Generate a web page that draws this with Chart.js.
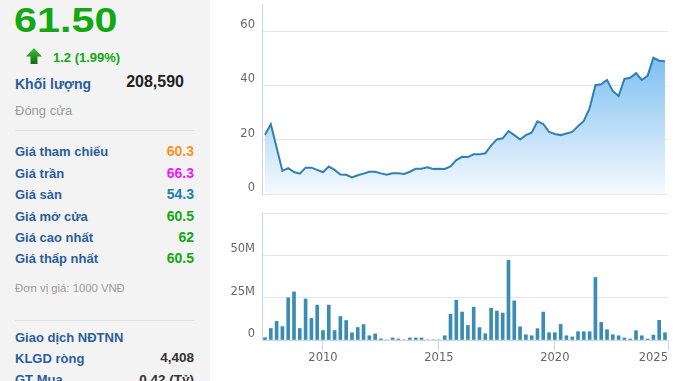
<!DOCTYPE html>
<html>
<head>
<meta charset="utf-8">
<script src="https://cdn.jsdelivr.net/npm/chart.js@4.4.1/dist/chart.umd.min.js"></script>
<style>
body { margin:0; width:678px; height:381px; overflow:hidden; background:#fff; position:relative; font-family:"Liberation Sans", Arial, sans-serif; }
#side { position:absolute; left:0; top:0; width:210px; height:381px; background:#f4f3f4; }
.t { position:absolute; white-space:nowrap; line-height:1; }
.lbl { left:15px; font-size:13px; font-weight:bold; color:#2b5d9c; }
.val { right:16px; font-size:14px; font-weight:bold; }
.sep { position:absolute; left:15px; width:180px; height:1px; background:#e2e1e2; }
canvas { position:absolute; }
</style>
</head>
<body>
<div id="side">
  <div class="t" style="left:14px;top:2px;font-size:35px;font-weight:bold;color:#12a812;transform:scaleX(1.18);transform-origin:left top;">61.50</div>
  <svg style="position:absolute;left:25px;top:47px" width="18" height="18" viewBox="0 0 18 18">
    <defs><linearGradient id="ag" x1="0" y1="0" x2="0" y2="1"><stop offset="0" stop-color="#43c043"/><stop offset="1" stop-color="#0d6e0d"/></linearGradient></defs>
    <polygon points="9,1 17,9.5 12.5,9.5 12.5,17 5.5,17 5.5,9.5 1,9.5" fill="url(#ag)"/>
  </svg>
  <div class="t" style="left:53px;top:51px;font-size:13px;font-weight:bold;color:#12a812;">1.2 (1.99%)</div>
  <div class="t" style="left:15px;top:76.5px;font-size:14px;font-weight:bold;color:#2b5d9c;">Khối lượng</div>
  <div class="t" style="right:26px;top:74px;font-size:16px;font-weight:bold;color:#222;">208,590</div>
  <div class="t" style="left:15px;top:104px;font-size:13px;color:#9a9a9a;">Đóng cửa</div>
  <div class="sep" style="top:130px"></div>

  <div class="t lbl" style="top:145px">Giá tham chiếu</div>
  <div class="t val" style="top:144px;color:#f7941d">60.3</div>
  <div class="t lbl" style="top:166.7px">Giá trần</div>
  <div class="t val" style="top:165.8px;color:#ee1bee">66.3</div>
  <div class="t lbl" style="top:188px">Giá sàn</div>
  <div class="t val" style="top:187.1px;color:#1b80b0">54.3</div>
  <div class="t lbl" style="top:209.7px">Giá mở cửa</div>
  <div class="t val" style="top:208.8px;color:#12a812">60.5</div>
  <div class="t lbl" style="top:230.7px">Giá cao nhất</div>
  <div class="t val" style="top:229.8px;color:#12a812">62</div>
  <div class="t lbl" style="top:252px">Giá thấp nhất</div>
  <div class="t val" style="top:251.1px;color:#12a812">60.5</div>

  <div class="t" style="left:15px;top:283.4px;font-size:11.3px;color:#9a9a9a;">Đơn vị giá: 1000 VNĐ</div>
  <div class="sep" style="top:320px"></div>

  <div class="t lbl" style="top:330.7px">Giao dịch NĐTNN</div>
  <div class="t lbl" style="top:351.6px">KLGD ròng</div>
  <div class="t val" style="top:351px;font-size:13.5px;color:#333">4,408</div>
  <div class="t lbl" style="top:373px">GT Mua</div>
  <div class="t val" style="top:372.5px;font-size:13.5px;color:#333">0.42 (Tỷ)</div>
</div>

<canvas id="price" width="458" height="200" style="left:220px;top:0px"></canvas>
<canvas id="vol" width="458" height="181" style="left:220px;top:200px"></canvas>

<script>
// du lieu theo quy, bat dau tu Q3/2007
const firstQuarter = 2007.5;
const xMin = 2007.37;
const xMax = 2024.88;
const yearTicks = [2010, 2015, 2020];

// gia dong cua (nghin dong)
const price = [21.8, 25.7, 17.1, 8.5, 9.5, 8.1, 7.5, 9.7, 9.7, 8.9,
  8.0, 10.1, 8.9, 7.2, 7.1, 6.1, 6.9, 7.5, 8.2, 8.2,
  7.6, 7.1, 7.6, 7.6, 7.4, 8.2, 9.3, 9.3, 9.8, 9.2,
  9.3, 9.2, 10.2, 12.5, 13.7, 13.6, 14.6, 14.6, 15.0, 17.8,
  20.1, 20.5, 23.2, 21.7, 20.1, 21.7, 22.6, 26.8, 25.8, 22.9,
  22.1, 21.7, 22.3, 22.9, 25.0, 26.9, 31.6, 40.1, 40.4, 42.0,
  37.9, 36.1, 42.4, 42.8, 44.5, 42.0, 43.5, 50.2, 49.1, 48.9];

// khoi luong (trieu cp)
const volume = [1.4, 6.8, 11.0, 7.9, 24.9, 28.4, 6.8, 24.2, 12.7, 20.6,
  5.6, 20.6, 5.6, 13.9, 11.5, 4.3, 7.4, 9.1, 2.5, 3.6,
  0.7, 0, 1.2, 0.6, 0, 1.2, 1.2, 1.2, 0, 0,
  0, 2.5, 15.2, 23.5, 16.5, 8.6, 19.4, 7.3, 3.7, 18.8,
  17.1, 15.9, 47.1, 23.1, 7.8, 3.1, 2.5, 6.7, 16.5, 4.3,
  4.3, 9.2, 2.5, 1.8, 4.9, 4.9, 4.9, 36.9, 10.4, 6.1,
  3.1, 2.5, 1.2, 0.6, 5.5, 2.5, 0.6, 2.9, 11.6, 4.3];

const axisFont = { family: "DejaVu Sans", size: 11.5 };
const axisColor = "#666";

function fixY(s) {
	s.width = 42;
	s.paddingTop = 0;
	s.paddingBottom = 0;
}

// grafico de precio
new Chart(document.getElementById("price"), {
	type: "line",
	data: {
		datasets: [{
			data: price.map((v, i) => ({ x: firstQuarter + i * 0.25, y: v })),
			borderColor: "#2f80b3",
			borderWidth: 2,
			pointRadius: 0,
			tension: 0,
			fill: "origin",
			backgroundColor: function (ctx) {
				const a = ctx.chart.chartArea;
				if (!a) return "rgba(0,0,0,0)";
				const g = ctx.chart.ctx.createLinearGradient(0, a.top, 0, a.bottom);
				g.addColorStop(0, "#4fa8ea");
				g.addColorStop(1, "#f5faff");
				return g;
			},
		}],
	},
	options: {
		responsive: false,
		animation: false,
		layout: { padding: { left: 0, right: 10, top: 4, bottom: 6 } },
		plugins: { legend: { display: false }, tooltip: { enabled: false } },
		scales: {
			x: { type: "linear", display: false, min: xMin, max: xMax },
			y: {
				min: 0,
				max: 70,
				afterBuildTicks: s => { s.ticks = s.ticks.filter(t => t.value % 20 === 0); },
				afterFit: fixY,
				ticks: { stepSize: 20, padding: 7, labelOffset: -6, color: axisColor, font: axisFont },
				grid: { color: "#e6e6e6", drawTicks: false },
				border: { color: "#ccd6eb" },
			},
		},
	},
});

// grafico de volumen
new Chart(document.getElementById("vol"), {
	type: "bar",
	data: {
		datasets: [{
			data: volume.map((v, i) => ({ x: firstQuarter + i * 0.25, y: v })),
			backgroundColor: "#3a8cb4",
			barThickness: 3,
		}],
	},
	options: {
		responsive: false,
		animation: false,
		layout: { padding: { left: 0, right: 10, top: 13, bottom: 0 } },
		plugins: { legend: { display: false }, tooltip: { enabled: false } },
		scales: {
			x: {
				type: "linear",
				min: xMin,
				max: xMax,
				offset: false,
				afterBuildTicks: s => { s.ticks = [xMin].concat(yearTicks, [xMax]).map(v => ({ value: v })); },
				afterFit: s => { s.height = 41; s.paddingLeft = 0; s.paddingRight = 0; },
				ticks: {
					align: "inner",
					autoSkip: false,
					maxRotation: 0,
					padding: 1,
					color: axisColor,
					font: axisFont,
					callback: v => (v === xMin ? "" : v === xMax ? "2025" : String(v)),
				},
				grid: {
					offset: false,
					drawOnChartArea: false,
					tickLength: 10,
					color: ctx => (ctx.tick && ctx.tick.value === xMin ? "rgba(0,0,0,0)" : "#ccd6eb"),
				},
				border: { color: "#ccd6eb" },
			},
			y: {
				min: 0,
				max: 75,
				afterFit: fixY,
				ticks: {
					stepSize: 25,
					padding: 7,
					labelOffset: -6,
					color: axisColor,
					font: axisFont,
					callback: v => (v === 75 ? "" : v === 0 ? "0" : v + "M"),
				},
				grid: { color: "#e6e6e6", drawTicks: false },
				border: { color: "#ccd6eb" },
			},
		},
	},
});
</script>
</body>
</html>
